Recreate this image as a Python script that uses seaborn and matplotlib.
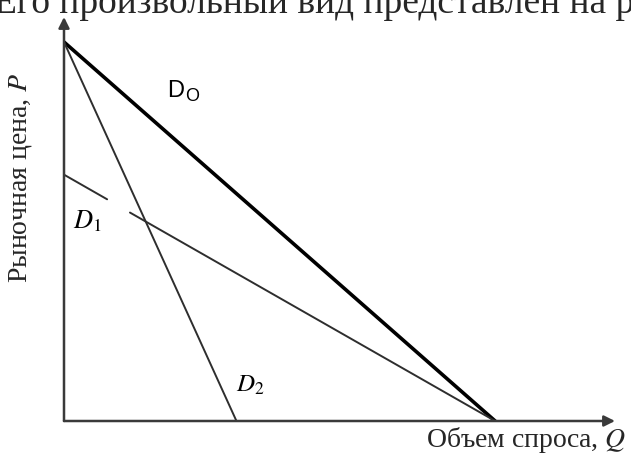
import pandas as pd
import matplotlib.pyplot as plt
import seaborn as sns

# Demand curves (Q - volume, P - price), relative units
d0_q = [0, 10]
d0_p = [10, 0]
d1_q = [0, 1.0, 1.53, 10]
d1_p = [6.5, 5.85, 5.5, 0]
d1_seg = [0, 0, 1, 1]
d2_q = [0, 4]
d2_p = [10, 0]

q_max = 12.78
p_max = 10.66

sns.set_theme(style='white')
plt.rcParams['font.family'] = ['Liberation Serif', 'DejaVu Serif']

fig = plt.figure(figsize=(6.31, 4.61), dpi=100)
ax = fig.add_axes([64 / 631, 40 / 461, 551 / 631, 404 / 461])

d0 = pd.DataFrame({'Q': d0_q, 'P': d0_p})
d1 = pd.DataFrame({'Q': d1_q, 'P': d1_p, 'seg': d1_seg})
d2 = pd.DataFrame({'Q': d2_q, 'P': d2_p})

sns.lineplot(data=d0, x='Q', y='P', color='black', linewidth=2.6, ax=ax)
sns.lineplot(data=d1, x='Q', y='P', units='seg', estimator=None,
             color='#2e2e2e', linewidth=1.4, ax=ax)
sns.lineplot(data=d2, x='Q', y='P', color='#2e2e2e', linewidth=1.4, ax=ax)

ax.set_xlim(0, q_max)
ax.set_ylim(0, p_max)
ax.set_xticks([])
ax.set_yticks([])
ax.set_xlabel('')
ax.set_ylabel('')
for s in ax.spines.values():
    s.set_visible(False)

# axes with arrows
arrow = dict(arrowstyle='-|>', lw=1.8, color='#3a3a3a', mutation_scale=16,
             shrinkA=0, shrinkB=0)
ax.annotate('', xy=(1, 0), xytext=(0, 0), xycoords='axes fraction',
            arrowprops=arrow, annotation_clip=False)
ax.annotate('', xy=(0, 1), xytext=(0, 0), xycoords='axes fraction',
            arrowprops=arrow, annotation_clip=False)

# curve labels
ax.text(2.4, 8.55, 'D', fontsize=17, family='Liberation Sans', color='black')
ax.text(2.82, 8.44, 'O', fontsize=13, family='Liberation Sans', color='black')
ax.text(0.2, 5.08, r'$D_1$', fontsize=19, math_fontfamily='stix', color='black')
ax.text(3.98, 0.78, r'$D_2$', fontsize=18, math_fontfamily='stix', color='black')

# axis titles
fig.text(526 / 631, 1 - 440 / 461, 'Объем спроса, $\\mathit{Q}$', fontsize=20,
         ha='center', va='center', math_fontfamily='stix')
fig.text(21 / 631, 1 - 178 / 461, 'Рыночная цена, $\\mathit{P}$', fontsize=20,
         ha='center', va='center', rotation=90, math_fontfamily='stix')

# cut-off line of the source text above the figure
fig.text(-6 / 631, 1 - 13 / 461, 'Его произвольный вид представлен на р',
         fontsize=27, ha='left', va='baseline')

fig.savefig('out.png', dpi=100)
